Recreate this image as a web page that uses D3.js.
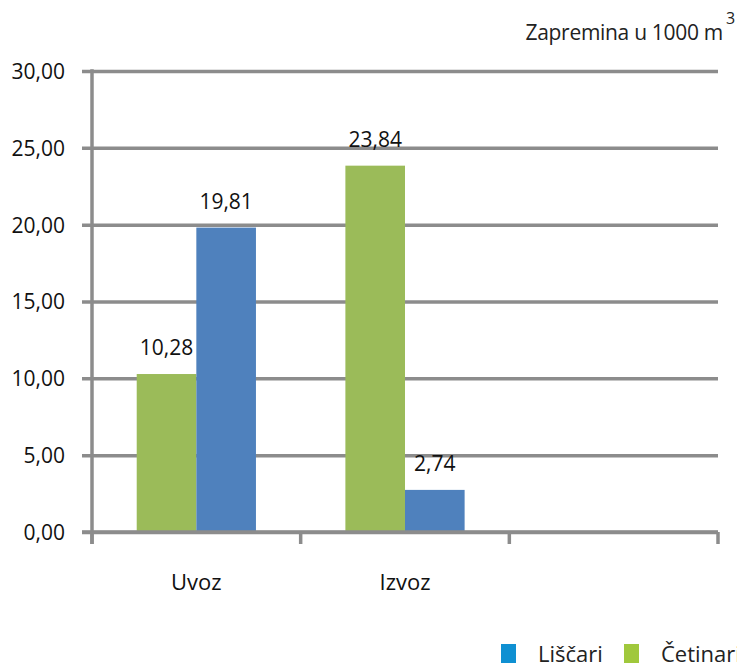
<!DOCTYPE html>
<html>
<head>
<meta charset="utf-8">
<script src="https://cdn.jsdelivr.net/npm/d3@7"></script>
<style>
  html, body { margin: 0; padding: 0; background: #fff; }
  svg { display: block; font-family: "Open Sans", sans-serif; }
</style>
</head>
<body>
<svg id="chart" width="737" height="665"></svg>
<script>
// Categories and series values (volume in 1000 m³)
const categories = ["Uvoz", "Izvoz", ""];
const seriesNames = ["Četinari", "Liščari"];
const cetinari = [10.28, 23.84, null];
const liscari = [19.81, 2.74, null];
const yTicks = [0, 5, 10, 15, 20, 25, 30];
const legendOrder = ["Liščari", "Četinari"];

const barColors = { "Četinari": "#9bbb59", "Liščari": "#4f81bd" };
const legendColors = { "Četinari": "#a0c83c", "Liščari": "#0f90d2" };
const gridColor = "#8c8c8c";

const svg = d3.select("#chart");
const plotL = 92, plotR = 718, plotT = 71, plotB = 532;

const x0 = d3.scaleBand().domain(categories).range([plotL, plotR]).padding(0);
const x1 = d3.scaleBand().domain(seriesNames).range([0, x0.bandwidth()])
  .paddingInner(0).paddingOuter(0.75);
const y = d3.scaleLinear().domain([0, 30]).range([plotB, plotT]);
const fmt = v => d3.format(".2f")(v).replace(".", ",");

// Horizontal gridlines with tick labels
const yAxis = d3.axisLeft(y).tickValues(yTicks).tickSize(-(plotR - plotL + 10))
  .tickFormat(fmt).tickPadding(17);
const gy = svg.append("g").attr("transform", `translate(${plotL - 10},0)`).call(yAxis);
gy.select(".domain").remove();
gy.selectAll(".tick line").attr("stroke", gridColor).attr("stroke-width", 3.5);
gy.selectAll(".tick text").attr("fill", "#111").style("font-size", "21px")
  .style("font-family", "'Open Sans', sans-serif").attr("dy", "0.35em");

// Bars
const data = categories.map((c, i) => ({ cat: c, values: [
  { key: "Četinari", value: cetinari[i] },
  { key: "Liščari", value: liscari[i] }
].filter(d => d.value !== null) }));

const groups = svg.append("g").selectAll("g").data(data).join("g")
  .attr("transform", d => `translate(${x0(d.cat)},0)`);
groups.selectAll("rect").data(d => d.values).join("rect")
  .attr("x", d => x1(d.key))
  .attr("y", d => y(d.value))
  .attr("width", x1.bandwidth())
  .attr("height", d => y(0) - y(d.value))
  .attr("fill", d => barColors[d.key]);
groups.selectAll("text").data(d => d.values).join("text")
  .attr("x", d => x1(d.key) + x1.bandwidth() / 2)
  .attr("y", d => y(d.value) - 19)
  .attr("text-anchor", "middle")
  .attr("fill", "#111")
  .style("font-size", "21px")
  .text(d => fmt(d.value));

// Category axis with tick marks between groups
const xTickPos = [plotL, ...categories.map(c => x0(c) + x0.bandwidth())];
const gx = svg.append("g");
gx.append("line").attr("x1", plotL - 10).attr("x2", plotR).attr("y1", plotB).attr("y2", plotB)
  .attr("stroke", gridColor).attr("stroke-width", 3.5);
gx.selectAll("line.tk").data(xTickPos).join("line").attr("class", "tk")
  .attr("x1", d => d).attr("x2", d => d).attr("y1", plotB).attr("y2", plotB + 12)
  .attr("stroke", gridColor).attr("stroke-width", 3.5);
gx.selectAll("text").data(categories).join("text")
  .attr("x", c => x0(c) + x0.bandwidth() / 2)
  .attr("y", 590)
  .attr("text-anchor", "middle")
  .attr("fill", "#111")
  .style("font-size", "22px")
  .text(c => c);

// Vertical axis line
svg.append("line").attr("x1", plotL).attr("x2", plotL).attr("y1", plotT - 1.75).attr("y2", plotB + 12)
  .attr("stroke", gridColor).attr("stroke-width", 3.5);

// Unit label
svg.append("text").attr("x", 723).attr("y", 40).attr("text-anchor", "end")
  .attr("fill", "#222").style("font-size", "21px").style("letter-spacing", "-0.3px")
  .text("Zapremina u 1000 m");
svg.append("text").attr("x", 726).attr("y", 24).attr("fill", "#222")
  .style("font-size", "16px").text("3");

// Legend
const legendX = [501, 624];
const lg = svg.append("g").selectAll("g").data(legendOrder).join("g")
  .attr("transform", (d, i) => `translate(${legendX[i]},0)`);
lg.append("rect").attr("x", 0).attr("y", 644).attr("width", 15).attr("height", 19)
  .attr("fill", d => legendColors[d]);
lg.append("text").attr("x", 37).attr("y", 662).attr("fill", "#222")
  .style("font-size", "22px").text(d => d);
</script>
</body>
</html>
